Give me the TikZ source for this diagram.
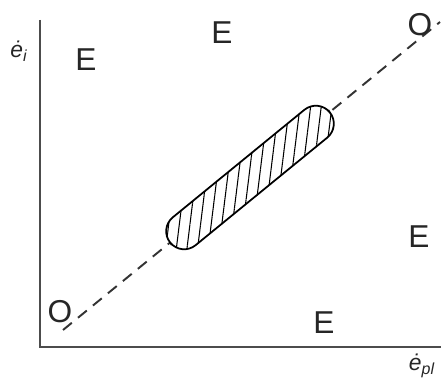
\documentclass[tikz,border=0pt]{standalone}
\usepackage{fontspec}
\setmainfont{Liberation Sans}
\usetikzlibrary{patterns.meta,positioning}
\tikzset{
  axisline/.style={line width=1.3pt,draw=black!70},
  trendline/.style={line width=1.1pt,draw=black!80,dash pattern=on 6.5pt off 4.5pt},
  capsule/.style={rectangle,draw=black,line width=1pt,fill=white,inner sep=0pt,
    minimum width=4.12cm,minimum height=0.72cm,rounded corners=0.36cm,
    postaction={pattern={Lines[angle=83,distance=6pt,line width=0.6pt]}}},
  region/.style={font=\fontsize{18}{20}\selectfont,text=black!85,inner sep=0pt},
  axlabel/.style={font=\fontsize{13}{15}\selectfont\itshape,text=black!85,inner sep=0pt},
}
\begin{document}
\begin{tikzpicture}
  \useasboundingbox (0,0) rectangle (8.84,7.74);
  % axes
  \coordinate (corner) at (0.8,0.8);
  \coordinate (ytop) at (0.8,7.34);
  \coordinate (xend) at (8.82,0.8);
  \draw[axisline] (ytop) -- (corner) -- (xend);
  \node[axlabel] (ylab) at (0.38,6.72) {ė\textsubscript{i}};
  \node[axlabel] (xlab) at (8.44,0.42) {ė\textsubscript{pl}};
  % diagonal of O points
  \coordinate (lowend) at (1.26,1.14);
  \coordinate (highend) at (8.8,7.3);
  \draw[trendline] (lowend) -- (highend);
  \node[capsule,rotate=39.25] (band) at (5.0,4.19) {};
  % labels
  \node[region] (olow) at (1.2,1.5) {O};
  \node[region] (ohigh) at (8.4,7.24) {O};
  \node[region] (etl) at (1.72,6.54) {E};
  \node[region] (etop) at (4.44,7.08) {E};
  \node[region] (eright) at (8.38,3.0) {E};
  \node[region] (ebottom) at (6.48,1.28) {E};
\end{tikzpicture}
\end{document}
